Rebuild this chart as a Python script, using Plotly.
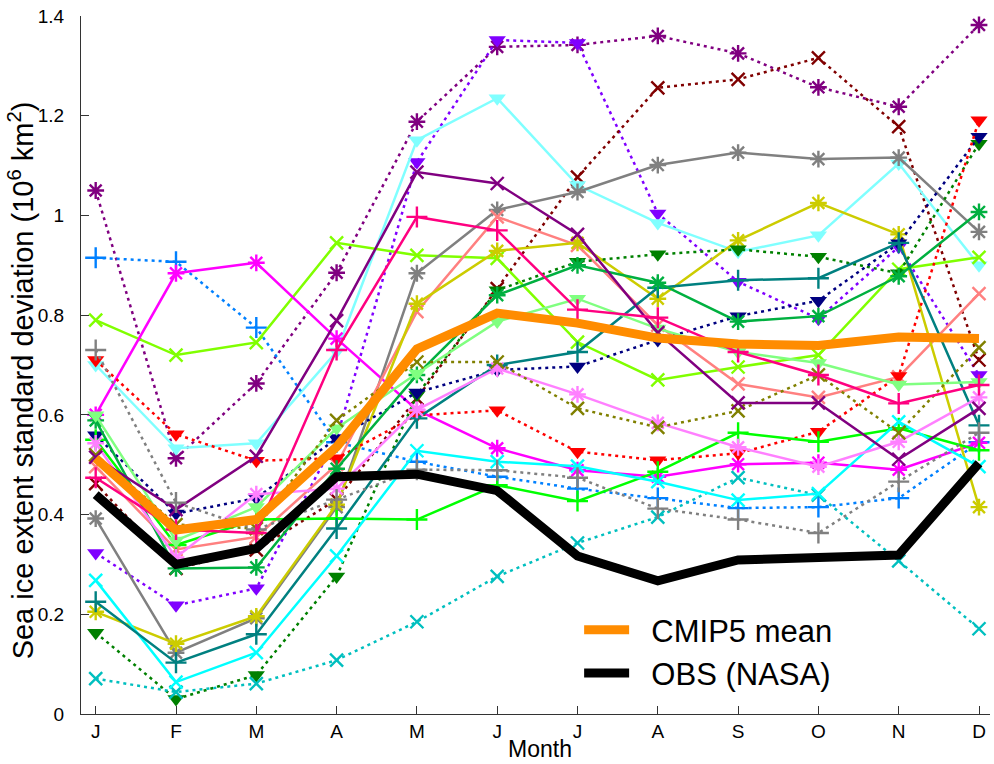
import plotly.graph_objects as go

# Month tick labels
months = ["J", "F", "M", "A", "M", "J", "J", "A", "S", "O", "N", "D"]
month_idx = list(range(1, 13))

# Monthly sea ice extent standard deviation (10^6 km^2) for each CMIP5 model
m01 = [1.05, 0.513, 0.663, 0.885, 1.188, 1.338, 1.342, 1.36, 1.325, 1.257, 1.218, 1.382]
m02 = [0.323, 0.218, 0.252, 0.553, 1.107, 1.352, 1.346, 1.004, 0.867, 0.793, 0.937, 0.68]
m03 = [0.462, 0.292, 0.329, 0.43, 0.633, 0.853, 1.077, 1.256, 1.273, 1.316, 1.178, 0.71]
m04 = [0.70, 0.533, 0.543, 0.727, 1.151, 1.235, 1.061, 0.985, 0.927, 0.96, 1.104, 0.9]
m05 = [0.915, 0.907, 0.775, 0.545, 0.506, 0.476, 0.452, 0.433, 0.413, 0.415, 0.433, 0.545]
m06 = [0.79, 0.72, 0.745, 0.945, 0.92, 0.914, 0.746, 0.67, 0.696, 0.72, 0.892, 0.916]
m07 = [0.60, 0.884, 0.905, 0.753, 0.61, 0.533, 0.489, 0.476, 0.501, 0.504, 0.49, 0.544]
m08 = [0.392, 0.123, 0.192, 0.415, 0.884, 1.011, 1.047, 1.101, 1.126, 1.113, 1.116, 0.967]
m09 = [0.496, 0.33, 0.355, 0.5, 0.807, 0.997, 0.94, 0.78, 0.662, 0.635, 0.676, 0.843]
m10 = [0.205, 0.141, 0.196, 0.42, 0.823, 0.929, 0.945, 0.833, 0.95, 1.025, 0.962, 0.415]
m11 = [0.163, 0.03, 0.078, 0.276, 0.64, 0.85, 0.907, 0.922, 0.932, 0.917, 0.884, 1.144]
m12 = [0.559, 0.402, 0.433, 0.553, 0.645, 0.69, 0.697, 0.75, 0.798, 0.829, 0.944, 1.158]
m13 = [0.71, 0.561, 0.508, 0.513, 0.599, 0.609, 0.526, 0.509, 0.523, 0.566, 0.678, 1.191]
m14 = [0.55, 0.339, 0.39, 0.392, 0.39, 0.459, 0.427, 0.486, 0.564, 0.546, 0.573, 0.529]
m15 = [0.071, 0.044, 0.061, 0.108, 0.185, 0.276, 0.343, 0.395, 0.474, 0.439, 0.307, 0.171]
m16 = [0.268, 0.064, 0.123, 0.317, 0.528, 0.506, 0.497, 0.466, 0.429, 0.442, 0.586, 0.496]
m17 = [0.225, 0.103, 0.16, 0.372, 0.593, 0.7, 0.726, 0.855, 0.87, 0.874, 0.945, 0.579]
m18 = [0.589, 0.292, 0.294, 0.492, 0.68, 0.84, 0.9, 0.865, 0.787, 0.798, 0.878, 1.007]
m19 = [0.599, 0.348, 0.415, 0.573, 0.683, 0.787, 0.833, 0.773, 0.726, 0.704, 0.661, 0.666]
m20 = [0.543, 0.314, 0.441, 0.452, 0.61, 0.693, 0.641, 0.584, 0.535, 0.496, 0.546, 0.635]
m21 = [0.52, 0.38, 0.372, 0.589, 0.706, 0.706, 0.613, 0.575, 0.608, 0.68, 0.564, 0.735]
m22 = [0.515, 0.41, 0.517, 0.789, 1.087, 1.064, 0.962, 0.765, 0.624, 0.624, 0.511, 0.613]
m23 = [0.73, 0.424, 0.37, 0.43, 0.49, 0.489, 0.474, 0.412, 0.39, 0.363, 0.466, 0.564]
m24 = [0.474, 0.37, 0.363, 0.73, 0.997, 0.97, 0.811, 0.795, 0.726, 0.68, 0.623, 0.66]

# Multi-model mean and observations
cmip5_mean = [0.513, 0.369, 0.39, 0.536, 0.732, 0.804, 0.784, 0.754, 0.742, 0.739, 0.756, 0.753]
obs_nasa = [0.44, 0.30, 0.332, 0.476, 0.481, 0.448, 0.317, 0.267, 0.309, 0.312, 0.319, 0.503]

models = [m01, m02, m03, m04, m05, m06, m07, m08, m09, m10, m11, m12,
          m13, m14, m15, m16, m17, m18, m19, m20, m21, m22, m23, m24]

# (colour, line dash, marker symbol) per model
styles = [
    ("#800080", "dot", "asterisk"),
    ("#8000FF", "dot", "tri"),
    ("#800000", "dot", "x"),
    ("#80FFFF", "solid", "tri"),
    ("#0080FF", "dot", "plus"),
    ("#80FF00", "solid", "x"),
    ("#FF00FF", "solid", "asterisk"),
    ("#808080", "solid", "asterisk"),
    ("#FF8080", "solid", "x"),
    ("#CCCC00", "solid", "asterisk"),
    ("#008000", "dot", "tri"),
    ("#000080", "dot", "tri"),
    ("#FF0000", "dot", "tri"),
    ("#00FF00", "solid", "plus"),
    ("#00BFBF", "dot", "x"),
    ("#00FFFF", "solid", "x"),
    ("#008080", "solid", "plus"),
    ("#00B040", "solid", "asterisk"),
    ("#80FF80", "solid", "tri"),
    ("#FF80FF", "solid", "asterisk"),
    ("#808000", "dot", "x"),
    ("#800080", "solid", "x"),
    ("#808080", "dot", "plus"),
    ("#FF0080", "solid", "plus"),
]

symbol_map = {
    "asterisk": ("asterisk-open", 14),
    "tri": ("triangle-down", 15),
    "x": ("x-thin-open", 13),
    "plus": ("cross-thin-open", 15),
}

fig = go.Figure()

for vals, (color, dash, mk) in zip(models, styles):
    sym, size = symbol_map[mk]
    marker = dict(symbol=sym, size=size, color=color)
    if mk == "tri":
        marker["line"] = dict(width=0)
    else:
        marker["line"] = dict(width=2.4, color=color)
    fig.add_trace(go.Scatter(
        x=month_idx, y=vals, mode="lines+markers",
        line=dict(color=color, width=2.5,
                  dash="3px,4px" if dash == "dot" else "solid"),
        marker=marker, showlegend=False, cliponaxis=False,
    ))

fig.add_trace(go.Scatter(
    x=month_idx, y=cmip5_mean, mode="lines", name="\u00a0\u00a0CMIP5 mean",
    line=dict(color="#FF8C00", width=9), cliponaxis=False,
))
fig.add_trace(go.Scatter(
    x=month_idx, y=obs_nasa, mode="lines", name="\u00a0\u00a0OBS (NASA)",
    line=dict(color="black", width=9), cliponaxis=False,
))

font_family = "Liberation Sans, Arial, sans-serif"

fig.update_layout(
    width=994, height=764,
    margin=dict(l=81, r=4, t=16, b=50, autoexpand=False),
    paper_bgcolor="white", plot_bgcolor="white",
    font=dict(family=font_family, color="black"),
    showlegend=True,
    legend=dict(
        x=0.548, y=0.159, xanchor="left", yanchor="top",
        bgcolor="rgba(0,0,0,0)", borderwidth=0,
        font=dict(size=31, family=font_family, color="black"),
        itemwidth=45, tracegroupgap=0,
    ),
    xaxis=dict(
        range=[0.817, 12.137], tickmode="array", tickvals=month_idx, ticktext=months,
        showgrid=False, zeroline=False, showline=True, linecolor="#333", linewidth=1,
        ticks="inside", ticklen=8, tickcolor="#333", mirror=False,
        tickfont=dict(size=19, family=font_family),
    ),
    yaxis=dict(
        range=[0, 1.4], tickmode="array",
        tickvals=[0, 0.2, 0.4, 0.6, 0.8, 1.0, 1.2, 1.4],
        ticktext=["0", "0.2", "0.4", "0.6", "0.8", "1", "1.2", "1.4"],
        showgrid=False, zeroline=False, showline=True, linecolor="#333", linewidth=1,
        ticks="inside", ticklen=8, tickcolor="#333", mirror=False,
        tickfont=dict(size=19, family=font_family), ticklabelstandoff=12,
    ),
    annotations=[
        dict(text="Sea ice extent standard deviation (10<sup>6</sup> km<sup>2</sup>)",
             xref="paper", yref="paper", x=-0.066, y=0.478, textangle=-90,
             showarrow=False, xanchor="center", yanchor="middle",
             font=dict(size=29, family=font_family)),
        dict(text="Month", xref="paper", yref="paper", x=0.505, y=-0.0504,
             showarrow=False, xanchor="center", yanchor="middle",
             font=dict(size=23, family=font_family)),
    ],
)

fig.write_html("out.html")
